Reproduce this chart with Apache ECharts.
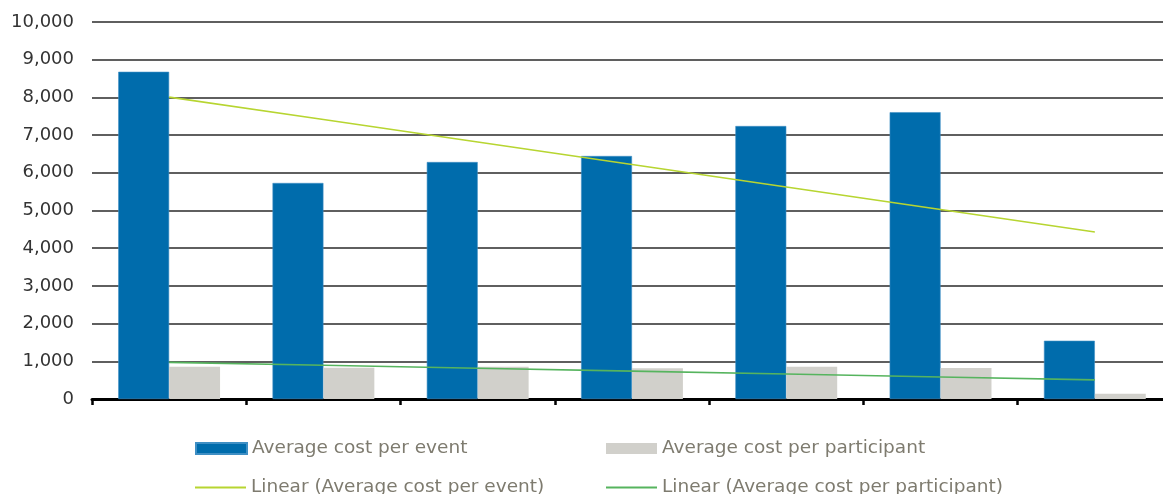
<!DOCTYPE html>
<html>
<head>
<meta charset="utf-8">
<script src="https://cdn.jsdelivr.net/npm/echarts@6/dist/echarts.min.js"></script>
<style>
  html, body { margin: 0; padding: 0; background: #fff; overflow: hidden; }
  /* the plot area runs a few pixels past the right edge of the window */
  #chart { width: 1172px; height: 494px; }
</style>
</head>
<body>
<div id="chart"></div>
<script>
// Seven unnamed periods
const categories = ['1', '2', '3', '4', '5', '6', '7'];
const costPerEvent = [8680, 5730, 6286, 6446, 7241, 7608, 1546];
const costPerParticipant = [857, 830, 857, 814, 857, 822, 141];

const yMin = 0;
const yMax = 10000;
const yStep = 1000;

const nameEvent = 'Average cost per event';
const nameParticipant = 'Average cost per participant';
const nameEventTrend = 'Linear (Average cost per event)';
const nameParticipantTrend = 'Linear (Average cost per participant)';

// Least-squares linear trend evaluated at each category position (x = 1..n)
function linearTrend(values) {
  const n = values.length;
  let sx = 0, sy = 0, sxy = 0, sxx = 0;
  values.forEach((y, i) => {
    const x = i + 1;
    sx += x; sy += y; sxy += x * y; sxx += x * x;
  });
  const slope = (n * sxy - sx * sy) / (n * sxx - sx * sx);
  const intercept = (sy - slope * sx) / n;
  return values.map((_, i) => +(intercept + slope * (i + 1)).toFixed(1));
}

const FONT = '"DejaVu Sans", Verdana, sans-serif';
const BLUE = '#006CAC';
const GREY = '#D1D0CB';
const LIME = '#B7D531';
const GREEN = '#56B45E';

const legendText = { color: '#7E7B6F', fontSize: 18.5, fontFamily: FONT };

const chart = echarts.init(document.getElementById('chart'), null, { renderer: 'canvas' });

chart.setOption({
  animation: false,
  backgroundColor: '#fff',
  grid: { left: 92, top: 22, right: 0, bottom: 95, containLabel: false },
  xAxis: {
    type: 'category',
    data: categories,
    boundaryGap: true,
    axisLine: { show: true, lineStyle: { color: '#000', width: 3 } },
    axisTick: { show: true, interval: 0, length: 6, lineStyle: { color: '#000', width: 2.5 } },
    axisLabel: { show: false },
    splitLine: { show: false }
  },
  yAxis: {
    type: 'value',
    min: yMin,
    max: yMax,
    interval: yStep,
    axisLine: { show: false },
    axisTick: { show: false },
    axisLabel: {
      margin: 18,
      color: '#333',
      fontSize: 18,
      fontFamily: FONT,
      formatter: v => v.toLocaleString('en-US')
    },
    splitLine: { show: true, lineStyle: { color: '#2a2a2a', width: 1.5 } }
  },
  legend: [
    { data: [nameEvent], left: 195, top: 439, padding: 0, itemWidth: 51, itemHeight: 11, icon: 'rect', textStyle: legendText },
    { data: [nameParticipant], left: 606, top: 439, padding: 0, itemWidth: 51, itemHeight: 11, icon: 'rect', textStyle: legendText },
    { data: [nameEventTrend], left: 195, top: 478, padding: 0, itemWidth: 51, itemHeight: 2, icon: 'rect', textStyle: legendText },
    { data: [nameParticipantTrend], left: 606, top: 478, padding: 0, itemWidth: 51, itemHeight: 2, icon: 'rect', textStyle: legendText }
  ],
  series: [
    {
      name: nameEvent,
      type: 'bar',
      data: costPerEvent,
      barGap: '0%',
      barCategoryGap: '34%',
      itemStyle: { color: BLUE, borderColor: '#3f8fc4', borderWidth: 0.6 },
      z: 2
    },
    {
      name: nameParticipant,
      type: 'bar',
      data: costPerParticipant,
      barGap: '0%',
      barCategoryGap: '34%',
      itemStyle: { color: GREY },
      z: 2
    },
    {
      name: nameEventTrend,
      type: 'line',
      data: linearTrend(costPerEvent),
      symbol: 'none',
      lineStyle: { color: LIME, width: 1.6 },
      itemStyle: { color: LIME },
      z: 3
    },
    {
      name: nameParticipantTrend,
      type: 'line',
      data: linearTrend(costPerParticipant),
      symbol: 'none',
      lineStyle: { color: GREEN, width: 1.6 },
      itemStyle: { color: GREEN },
      z: 3
    }
  ]
});
</script>
</body>
</html>
